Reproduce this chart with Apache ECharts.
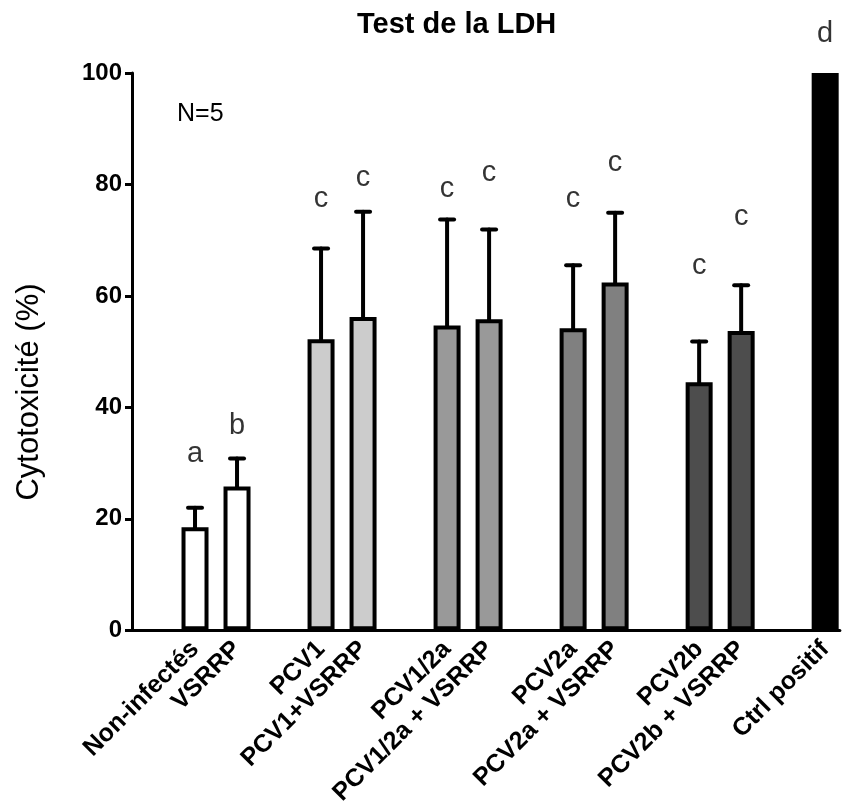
<!DOCTYPE html>
<html>
<head>
<meta charset="utf-8">
<title>Test de la LDH</title>
<script src="https://cdn.jsdelivr.net/npm/echarts@6/dist/echarts.min.js"></script>
<style>
  html, body { margin: 0; padding: 0; background: #fff; }
  #chart { width: 842px; height: 808px; }
</style>
</head>
<body>
<div id="chart"></div>
<script>
// groupes (un emplacement vide entre chaque paire)
const groups = [
  ['Non-infectés', 'VSRRP'],
  ['PCV1', 'PCV1+VSRRP'],
  ['PCV1/2a', 'PCV1/2a + VSRRP'],
  ['PCV2a', 'PCV2a + VSRRP'],
  ['PCV2b', 'PCV2b + VSRRP'],
  ['Ctrl positif']
]
// moyennes et barres d'erreur (% cytotoxicité)
const means = [18.5, 25.8, 52.2, 56.2, 54.7, 55.8, 54.2, 62.4, 44.5, 53.7, 100]
const errors = [3.5, 5.0, 16.3, 18.9, 19.0, 16.1, 11.3, 12.5, 7.3, 8.2, 0]
// lettres de significativité et leur hauteur
const letters = ['a', 'b', 'c', 'c', 'c', 'c', 'c', 'c', 'c', 'c', 'd']
const letterY = [31.7, 36.7, 77.3, 81.2, 79.1, 82.1, 77.3, 83.9, 65.3, 74.2, 107]
const yTicks = [0, 20, 40, 60, 80, 100]

const fills = ['#ffffff', '#ffffff', '#cccccc', '#cccccc', '#999999', '#999999',
  '#808080', '#808080', '#4d4d4d', '#4d4d4d', '#000000']

// position de chaque barre : milieu d'un emplacement, un emplacement vide avant chaque groupe
const names = []
const xPos = []
let slot = 0
groups.forEach((g) => {
  slot += 1
  g.forEach((name) => {
    names.push(name)
    xPos.push(slot + 0.5)
    slot += 1
  })
})

const barData = means.map((v, i) => ({ value: [xPos[i], v], itemStyle: { color: fills[i] } }))
const errData = means
  .map((v, i) => [xPos[i], v, v + errors[i]])
  .filter((d, i) => errors[i] > 0)
const letterData = letters.map((l, i) => [xPos[i], letterY[i], l])

const font = 'Liberation Sans, Arial, sans-serif'
const myChart = echarts.init(document.getElementById('chart'))

const option = {
  animation: false,
  title: [
    {
      text: 'Test de la LDH',
      left: 352,
      top: 5,
      textStyle: { fontFamily: font, fontSize: 29, fontWeight: 'bold', color: '#000' }
    },
    {
      text: 'N=5',
      left: 172,
      top: 97,
      textStyle: { fontFamily: font, fontSize: 25, fontWeight: 'normal', color: '#000' }
    }
  ],
  graphic: [
    {
      type: 'text',
      x: 29,
      y: 392,
      rotation: Math.PI / 2,
      style: {
        text: 'Cytotoxicité (%)',
        fontFamily: font,
        fontSize: 31,
        fill: '#000',
        align: 'center',
        verticalAlign: 'middle'
      }
    }
  ],
  grid: {
    left: 132,
    right: 0,
    top: 73,
    bottom: 176
  },
  xAxis: {
    type: 'value',
    min: 0,
    max: 16.85,
    interval: 0.5,
    splitLine: { show: false },
    axisLine: { lineStyle: { color: '#000', width: 3 } },
    axisTick: { show: false },
    axisLabel: {
      rotate: 45,
      margin: 15,
      color: '#000',
      fontFamily: font,
      fontSize: 25,
      fontWeight: 'bold',
      formatter: (v) => {
        const i = xPos.findIndex((p) => Math.abs(p - v) < 1e-6)
        return i < 0 ? '' : names[i]
      }
    }
  },
  yAxis: {
    type: 'value',
    min: yTicks[0],
    max: yTicks[yTicks.length - 1],
    interval: yTicks[1] - yTicks[0],
    splitLine: { show: false },
    axisLine: { show: true, lineStyle: { color: '#000', width: 3 } },
    axisTick: { show: true, length: 7, lineStyle: { color: '#000', width: 3 } },
    axisLabel: {
      margin: 10,
      color: '#000',
      fontFamily: font,
      fontSize: 24,
      fontWeight: 'bold'
    }
  },
  series: [
    {
      type: 'custom',
      z: 1,
      renderItem: (params, api) => {
        const base = api.coord([api.value(0), api.value(1)])
        const top = api.coord([api.value(0), api.value(2)])
        const style = { stroke: '#000', lineWidth: 4, lineCap: 'round' }
        return {
          type: 'group',
          children: [
            { type: 'line', shape: { x1: base[0], y1: base[1], x2: top[0], y2: top[1] }, style },
            { type: 'line', shape: { x1: top[0] - 7, y1: top[1], x2: top[0] + 7, y2: top[1] }, style }
          ]
        }
      },
      encode: { x: 0, y: [1, 2] },
      data: errData
    },
    {
      type: 'bar',
      z: 2,
      barWidth: 27,
      itemStyle: { borderColor: '#000', borderWidth: 4 },
      data: barData
    },
    {
      type: 'scatter',
      z: 3,
      clip: false,
      symbolSize: 1,
      itemStyle: { color: 'rgba(0,0,0,0)' },
      label: {
        show: true,
        position: 'inside',
        formatter: (p) => p.data[2],
        color: '#000',
        fontFamily: font,
        fontSize: 29
      },
      data: letterData
    }
  ]
}
myChart.setOption(option)
</script>
</body>
</html>
